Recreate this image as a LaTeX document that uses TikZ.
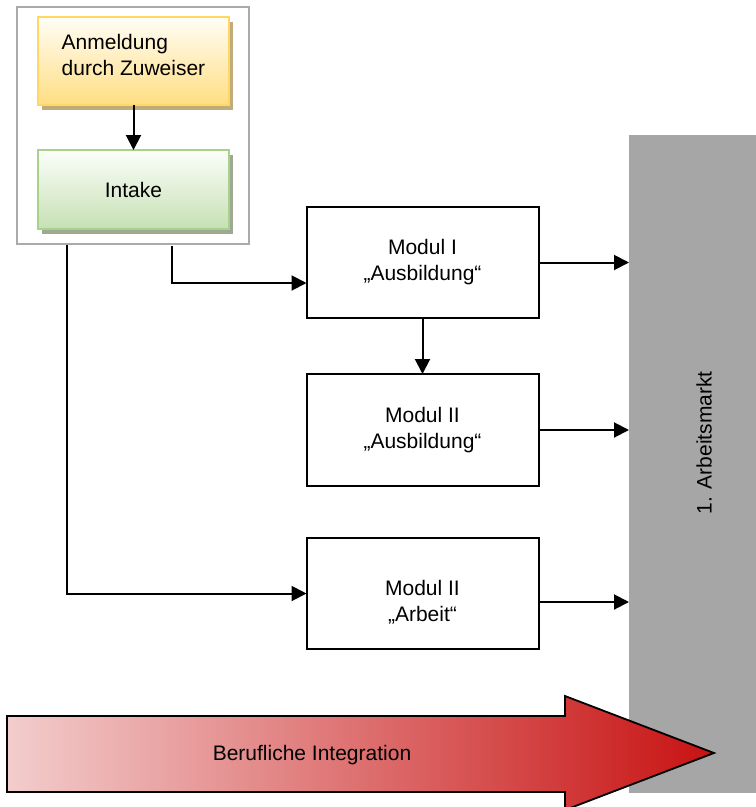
\documentclass[tikz,border=0pt]{standalone}
\usepackage{fontspec}
\setmainfont{Liberation Sans}
\usetikzlibrary{arrows.meta,shadows}
\definecolor{framegray}{RGB}{170,170,170}
\definecolor{yborder}{RGB}{255,215,100}
\definecolor{ytop}{RGB}{255,253,246}
\definecolor{ybot}{RGB}{255,222,130}
\definecolor{yshad}{RGB}{191,172,122}
\definecolor{gborder}{RGB}{166,210,138}
\definecolor{gtop}{RGB}{252,254,250}
\definecolor{gbot}{RGB}{198,224,180}
\definecolor{gshad}{RGB}{158,168,146}
\definecolor{amgray}{RGB}{166,166,166}
\definecolor{redleft}{RGB}{243,205,205}
\definecolor{redmid}{RGB}{232,168,168}
\definecolor{redright}{RGB}{200,18,18}
\begin{document}
\begin{tikzpicture}[x=1pt,y=-1pt,
  font=\fontsize{21}{26}\selectfont,
  every node/.style={inner sep=0pt, outer sep=0pt},
  modbox/.style={draw=black, line width=2pt, minimum width=232pt, align=center},
  colbox/.style={line width=1.8pt, minimum width=191pt,
    drop shadow={shadow xshift=3.5pt, shadow yshift=-5pt, opacity=1, fill=#1}},
  conn/.style={line width=2pt, -{Triangle[length=15pt,width=15pt]}}]
\useasboundingbox (0,0) rectangle (756,807);

% outer frame
\node[draw=framegray, line width=1.8pt, minimum width=232pt, minimum height=237pt] (frame) at (133,125.5) {};

% yellow box
\node[colbox=yshad, draw=yborder, top color=ytop, bottom color=ybot, minimum height=88pt] (ybox) at (133.5,61) {};
\node[align=left] (ytext) at ([yshift=6pt]ybox.center) {Anmeldung\\durch Zuweiser};

% green box
\node[colbox=gshad, draw=gborder, top color=gtop, bottom color=gbot, minimum height=79pt] (gbox) at (133.5,189.5) {Intake};

% gray column
\node[fill=amgray, minimum width=127pt, minimum height=658pt] (am) at (692.5,464) {};
\node[rotate=90] (amtext) at (704,443) {1. Arbeitsmarkt};

% modules
\node[modbox, minimum height=111pt] (m1) at (422.5,262.5) {Modul I\\„Ausbildung“};
\node[modbox, minimum height=112pt] (m2) at (422.5,430) {Modul II\\„Ausbildung“};
\node[modbox, minimum height=111pt] (m3) at (422.5,593.5) {};
\node[align=center] (m3t) at ([yshift=-8.5pt]m3.center) {Modul II\\„Arbeit“};

% connectors
\draw[conn] (ybox) -- (gbox);
\draw[conn] (m1) -- (m2);
\coordinate (s1) at (172,246);
\coordinate (s2) at (67,244.5);
\draw[conn] (s1) |- ([yshift=-20.5pt]m1.west);
\draw[conn] (s2) |- (m3.west);
\draw[conn] (m1.east) -- (m1.east -| am.west);
\draw[conn] (m2.east) -- (m2.east -| am.west);
\draw[conn] (m3t.center -| m3.east) -- (m3t.center -| am.west);

% big arrow
\draw[line width=1.8pt, left color=redleft, middle color=redmid, right color=redright]
  (7,716) -- (565,716) -- (565,696) -- (714,753) -- (565,810) -- (565,792) -- (7,792) -- cycle;
\node (bi) at (312,755.5) {Berufliche Integration};
\end{tikzpicture}
\end{document}
